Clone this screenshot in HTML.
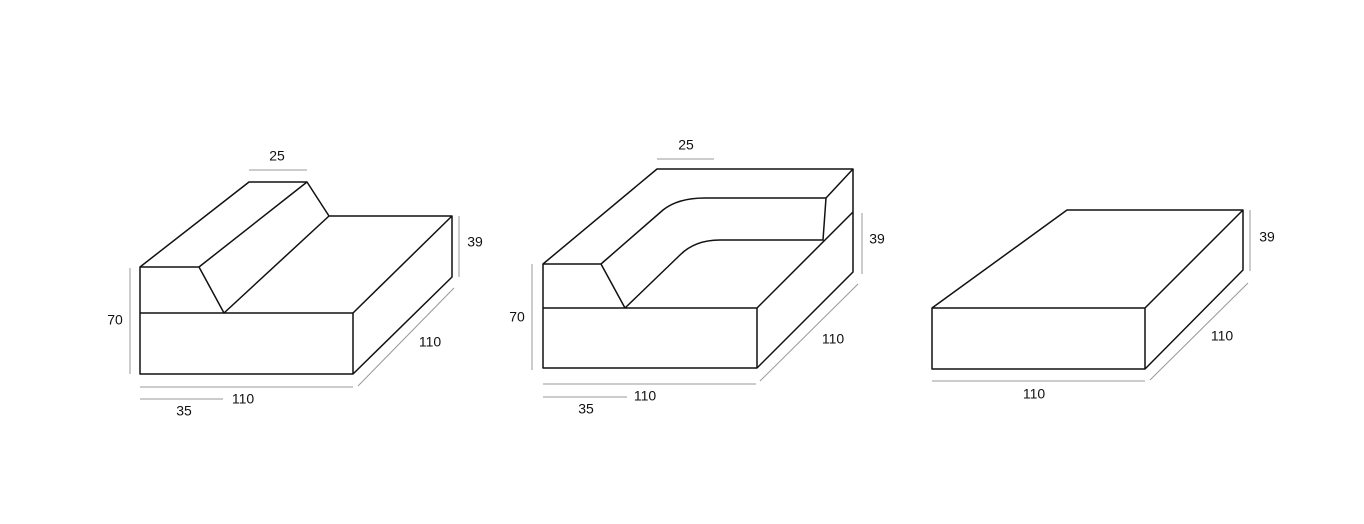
<!DOCTYPE html>
<html><head><style>body{margin:0;background:#fff}svg{display:block}text{font-family:"Liberation Sans",sans-serif;font-size:14px;fill:#111;text-anchor:middle;dominant-baseline:middle}</style></head><body>
<svg width="1364" height="524" viewBox="0 0 1364 524">
<g fill="none" stroke="#111" stroke-width="1.5" stroke-linejoin="round">
<!-- shape 1 -->
<path d="M140,267 L249,182 L307,182 L329,216 L452,216 L452,277 L353,374 L140,374 Z"/>
<path d="M140,313 L353,313 L353,374 M353,313 L452,216 M140,267 L199,267 L224,313 L329,216 M199,267 L307,182"/>
<!-- shape 2 -->
<path d="M543,264 L657,169 L853,169 L853,272 L757,368 L543,368 Z"/>
<path d="M543,308 L757,308 L757,368 M757,308 L853,212 M543,264 L601,264 L625,308 L680,255 Q695,240 720,240 L823,240 L826,198 L853,169 M601,264 L663,210 Q678,198 705,198 L826,198"/>
<!-- shape 3 -->
<path d="M932,308 L1067,210 L1243,210 L1243,270 L1145,369 L932,369 Z M932,308 L1145,308 L1145,369 M1145,308 L1243,210"/>
</g>
<g stroke="#999" stroke-width="1" fill="none">
<path d="M249,170 H307 M459,216 V277 M358,386 L454,288 M140,387 H353 M140,399 H223 M130,268 V374"/>
<path d="M657,159 H714 M862,213 V274 M760,381 L858,284 M543,384 H756 M543,397 H627 M532,264 V370"/>
<path d="M1250,210 V271 M1150,380 L1248,283 M932,381 H1145"/>
</g>
<text x="277" y="157">25</text><text x="475" y="243">39</text><text x="430" y="343">110</text><text x="243" y="400">110</text><text x="184" y="412">35</text><text x="115" y="321">70</text>
<text x="686" y="146">25</text><text x="877" y="240">39</text><text x="833" y="340">110</text><text x="645" y="397">110</text><text x="586" y="410">35</text><text x="517" y="318">70</text>
<text x="1267" y="238">39</text><text x="1222" y="337">110</text><text x="1034" y="395">110</text>
</svg>
</body></html>
